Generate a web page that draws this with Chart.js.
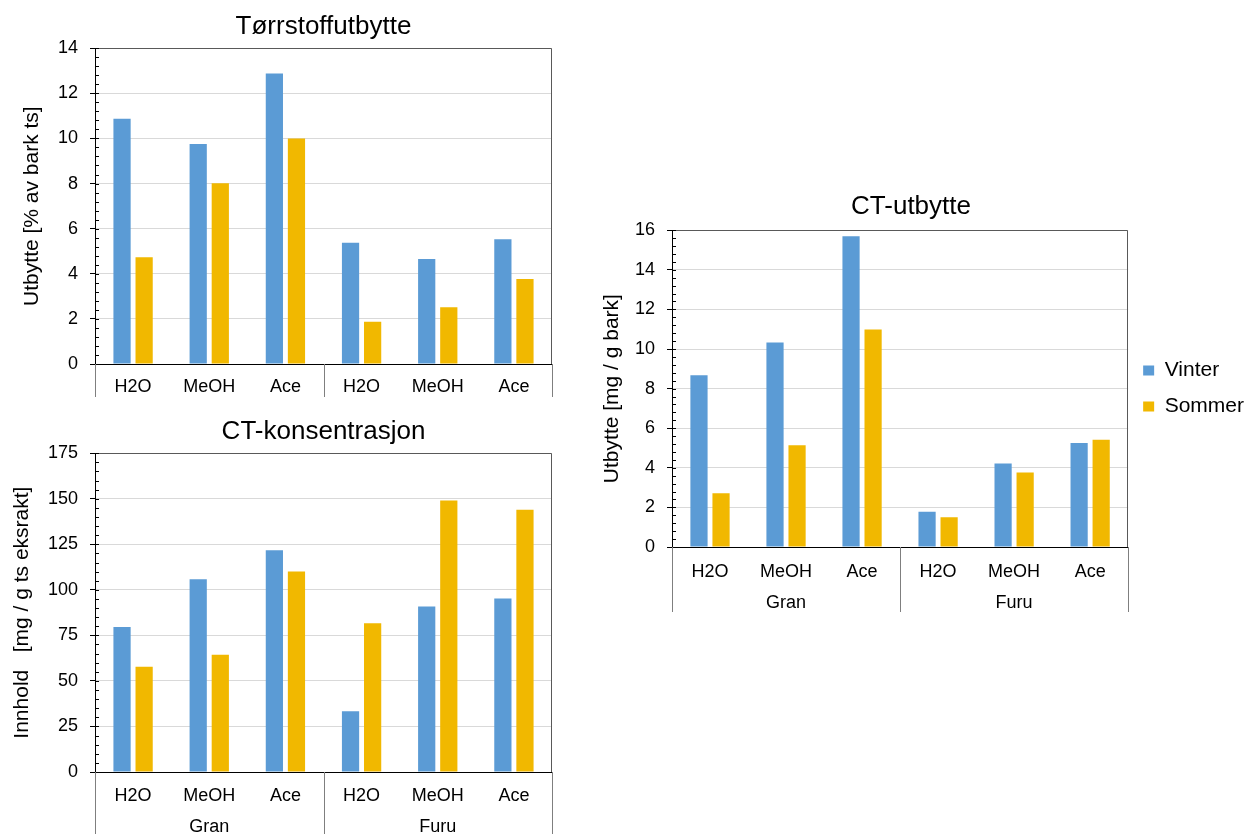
<!DOCTYPE html>
<html>
<head>
<meta charset="utf-8">
<script src="https://cdn.jsdelivr.net/npm/chart.js@4.4.1/dist/chart.umd.min.js"></script>
<style>
  html, body { margin: 0; padding: 0; background: #fff; overflow: hidden; }
  body { width: 1245px; height: 834px; position: relative; }
  canvas { position: absolute; }
</style>
</head>
<body>
<canvas id="chart-ts" width="560" height="397" style="left:0;top:0;width:560px;height:397px"></canvas>
<canvas id="chart-kons" width="560" height="429" style="left:0;top:405px;width:560px;height:429px"></canvas>
<canvas id="chart-utb" width="664" height="432" style="left:590px;top:180px;width:664px;height:432px"></canvas>
<script>
// categories
const solvents = ['H2O', 'MeOH', 'Ace', 'H2O', 'MeOH', 'Ace'];
const species = ['Gran', 'Furu'];
const seasons = ['Vinter', 'Sommer'];

// Tørrstoffutbytte [% av bark ts]
const tsVinter = [10.87, 9.75, 12.88, 5.37, 4.65, 5.53];
const tsSommer = [4.73, 8.01, 10.0, 1.87, 2.52, 3.77];

// CT-konsentrasjon [mg / g ts ekstrakt]
const konsVinter = [79.6, 105.8, 121.7, 33.3, 90.8, 95.3];
const konsSommer = [57.8, 64.3, 110.0, 81.6, 149.0, 144.0];

// CT-utbytte [mg / g bark]
const utbVinter = [8.67, 10.33, 15.70, 1.78, 4.22, 5.25];
const utbSommer = [2.72, 5.14, 10.99, 1.50, 3.76, 5.42];

const BLUE = '#5B9BD5';
const GOLD = '#F1B800';
const FONT = 'Liberation Sans, Arial, sans-serif';

Chart.defaults.font.family = FONT;
Chart.defaults.color = '#000';

// plot frame, minor ticks on y and the category box lines
const framePlugin = {
    id: 'frame',
    afterDraw(chart, args, opts) {
        const ctx = chart.ctx;
        const a = chart.chartArea;
        const y = chart.scales.y;
        const x = chart.scales.x;
        ctx.save();
        ctx.lineWidth = 1;

        // top + right border of plot area
        ctx.strokeStyle = '#595959';
        ctx.beginPath();
        ctx.moveTo(Math.round(a.left) + 0.5, Math.round(a.top) + 0.5);
        ctx.lineTo(Math.round(a.right) - 0.5, Math.round(a.top) + 0.5);
        ctx.lineTo(Math.round(a.right) - 0.5, Math.round(a.bottom));
        ctx.stroke();

        // minor ticks inside the y axis
        ctx.strokeStyle = '#000';
        const n = Math.round((y.max - y.min) / opts.minor);
        for (let i = 0; i <= n; i++) {
            const py = Math.round(y.getPixelForValue(y.min + i * opts.minor)) + 0.5;
            ctx.beginPath();
            ctx.moveTo(y.right, py);
            ctx.lineTo(y.right + 4, py);
            ctx.stroke();
        }

        // vertical lines of the category box
        ctx.strokeStyle = '#7f7f7f';
        const xs = [x.left, x.getPixelForValue(2.5), x.right];
        xs.forEach(px => {
            const p = Math.round(px) + 0.5;
            ctx.beginPath();
            ctx.moveTo(p, x.top);
            ctx.lineTo(p, chart.height);
            ctx.stroke();
        });
        ctx.restore();
    }
};

function makeChart(id, cfg) {
    const scales = {
        x: {
            type: 'category',
            labels: solvents,
            weight: 0,
            grid: { display: false, drawTicks: false },
            border: { display: true, color: '#000', width: 1 },
            ticks: { font: { size: 18 }, padding: cfg.xPad, maxRotation: 0, autoSkip: false },
            afterFit: s => { s.height = cfg.xHeight; }
        },
        y: {
            min: cfg.min,
            max: cfg.max,
            ticks: { stepSize: cfg.step, font: { size: 18 }, padding: 12 },
            grid: { color: '#D9D9D9', tickColor: '#000', tickLength: 5 },
            border: { display: true, color: '#000', width: 1 },
            title: { display: true, text: cfg.yTitle, font: { size: 21 }, padding: { top: cfg.yTitlePad, bottom: 0 } },
            afterFit: s => { s.width = cfg.yWidth; }
        }
    };
    if (cfg.groups) {
        scales.x2 = {
            type: 'category',
            labels: species,
            position: 'bottom',
            offset: true,
            weight: 1,
            grid: { display: false, drawTicks: false },
            border: { display: false },
            ticks: { font: { size: 18 }, padding: cfg.x2Pad, maxRotation: 0 },
            afterFit: s => { s.height = cfg.x2Height; }
        };
    }

    return new Chart(document.getElementById(id), {
        type: 'bar',
        data: {
            labels: solvents,
            datasets: [
                { label: seasons[0], data: cfg.vinter, backgroundColor: BLUE, categoryPercentage: 0.58, barPercentage: 0.78 },
                { label: seasons[1], data: cfg.sommer, backgroundColor: GOLD, categoryPercentage: 0.58, barPercentage: 0.78 }
            ]
        },
        options: {
            responsive: false,
            animation: false,
            devicePixelRatio: 1,
            layout: { padding: cfg.padding },
            scales: scales,
            plugins: {
                title: {
                    display: true,
                    text: cfg.title,
                    fullSize: cfg.titleFull,
                    color: '#000',
                    font: { size: 26, weight: 'normal' },
                    padding: { top: 11, bottom: cfg.titleBottom }
                },
                legend: cfg.legend ? {
                    display: true,
                    position: 'right',
                    fullSize: false,
                    labels: {
                        boxWidth: 11,
                        boxHeight: 10,
                        padding: 15,
                        color: '#000',
                        font: { size: 21 }
                    }
                } : { display: false },
                tooltip: { enabled: false },
                frame: { minor: cfg.minor }
            }
        },
        plugins: [framePlugin]
    });
}

makeChart('chart-ts', {
    title: 'Tørrstoffutbytte',
    yTitle: 'Utbytte [% av bark ts]',
    vinter: tsVinter, sommer: tsSommer,
    min: 0, max: 14, step: 2, minor: 0.4,
    padding: { left: 0, right: 8, top: 0, bottom: 0 },
    yWidth: 95, yTitlePad: 20,
    xHeight: 33, xPad: 12,
    titleFull: false, titleBottom: 6,
    groups: false, legend: false
});

makeChart('chart-kons', {
    title: 'CT-konsentrasjon',
    yTitle: 'Innhold   [mg / g ts eksrakt]',
    vinter: konsVinter, sommer: konsSommer,
    min: 0, max: 175, step: 25, minor: 5,
    padding: { left: 0, right: 8, top: 0, bottom: 0 },
    yWidth: 95, yTitlePad: 10,
    xHeight: 36, xPad: 13, x2Height: 26, x2Pad: 8,
    titleFull: false, titleBottom: 6,
    groups: true, legend: false
});

makeChart('chart-utb', {
    title: 'CT-utbytte',
    yTitle: 'Utbytte [mg / g bark]',
    vinter: utbVinter, sommer: utbSommer,
    min: 0, max: 16, step: 2, minor: 0.4,
    padding: { left: -22, right: 0, top: 0, bottom: 0 },
    yWidth: 104, yTitlePad: 32,
    xHeight: 36, xPad: 14, x2Height: 29, x2Pad: 9,
    titleFull: true, titleBottom: 8,
    groups: true, legend: true
});
</script>
</body>
</html>
